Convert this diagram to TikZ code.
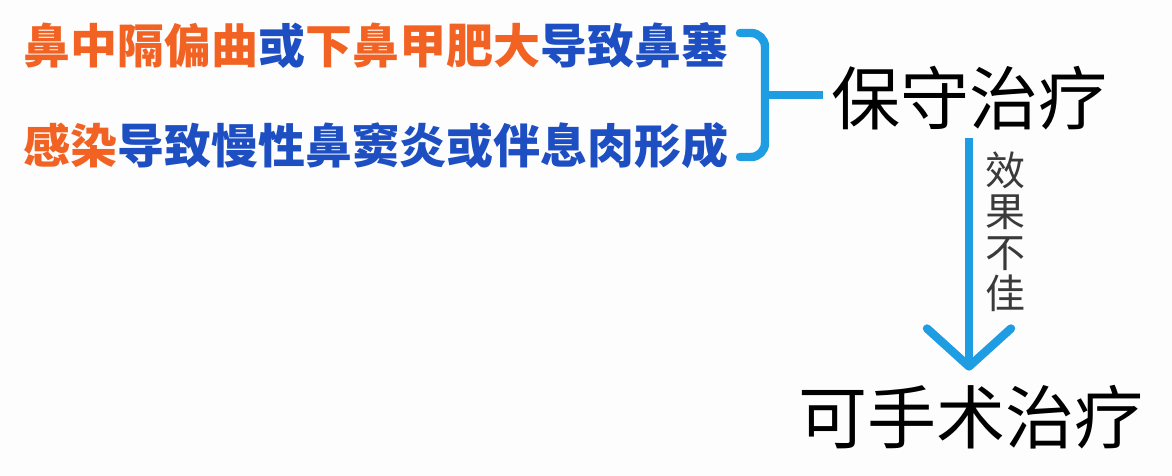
\documentclass[tikz,border=0pt]{standalone}
\usepackage{fontspec}
\usepackage{xcolor}
\usepackage{tikz}
\usetikzlibrary{positioning, arrows.meta, calc}
\newfontfamily\cjk{Noto Sans CJK SC}
\definecolor{causeorange}{HTML}{F26222}
\definecolor{causeblue}{HTML}{1D4EC2}
\definecolor{linkblue}{HTML}{1E9DE3}
\definecolor{notegray}{HTML}{3A3A3A}

\begin{document}
\begin{tikzpicture}[x=0.5pt, y=-0.5pt]
            % Define styles
            \tikzstyle{causetext} = [inner sep=0pt, font=\cjk\bfseries\fontsize{23.5}{28}\selectfont]
            \tikzstyle{treattext} = [inner sep=0pt, font=\cjk\fontsize{34.5}{40}\selectfont]
            \tikzstyle{brace} = [draw=linkblue, line width=4.2pt, rounded corners=7pt, line cap=round]
            \tikzstyle{flowarrow} = [draw=linkblue, line width=4.2pt, -{Straight Barb[length=19pt, width=42pt, round]}]

            % Background and size
            \fill[white!97!black!30!white] (0,0) rectangle (1172,476);
            \useasboundingbox (0,0) rectangle (1172,476);

            % Causes
            \node [causetext, anchor=east] (nasal) at (729,46) {\textcolor{causeorange}{鼻中隔偏曲}\textcolor{causeblue}{或}\textcolor{causeorange}{下鼻甲肥大}\textcolor{causeblue}{导致鼻塞}};
            \node [causetext, anchor=east] (sinus) at (729,146) {\textcolor{causeorange}{感染}\textcolor{causeblue}{导致慢性鼻窦炎或伴息肉形成}};

            % Treatments
            \node [treattext] (conserve) at (969,98) {保守治疗};
            \node [treattext] (surgery) at (971,417) {可手术治疗};

            % Bracket joining the causes
            \coordinate (braceup) at ($(nasal.east)+(11,-13)$);
            \coordinate (bracelow) at ($(sinus.east)+(11,11)$);
            \coordinate (bracemid) at ($(braceup)!0.5!(bracelow)+(25,0)$);
            \draw [brace] (braceup) -| (bracemid) |- (bracelow);
            \draw [brace, line cap=butt, shorten >=4pt] (bracemid) -- (bracemid -| conserve.west);

            % Arrow with label
            \draw [flowarrow, shorten <=4pt, shorten >=7pt] (conserve.south) -- node[pos=0.4, right=6pt, align=center, inner sep=0pt, text=notegray, font=\cjk\fontsize{20}{20.5}\selectfont] (poor) {效\\果\\不\\佳} (conserve.south |- surgery.north);
        \end{tikzpicture}
\end{document}
